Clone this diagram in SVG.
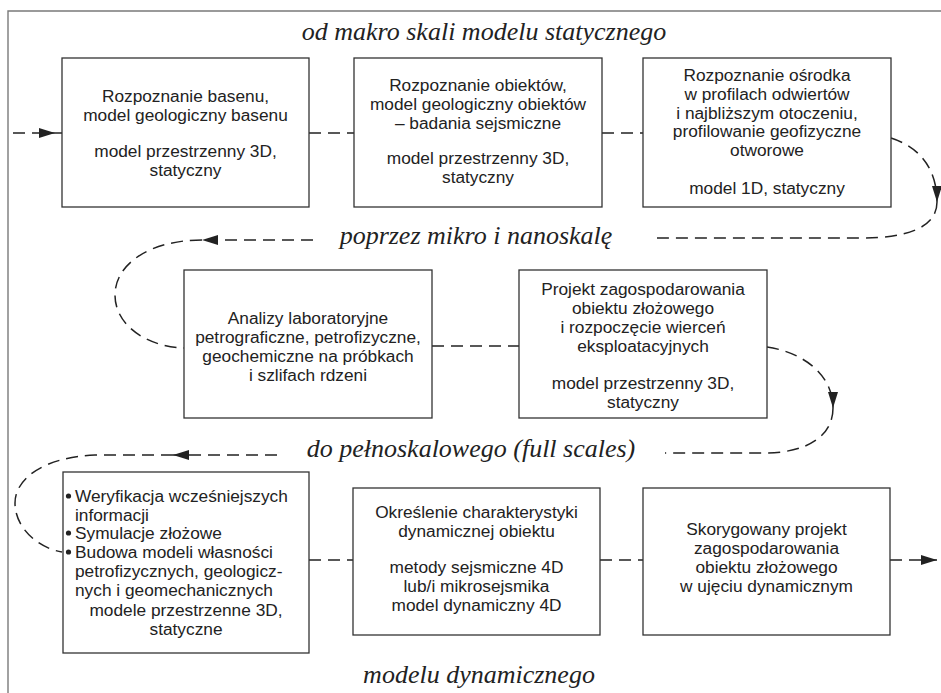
<svg xmlns="http://www.w3.org/2000/svg" width="941" height="693" viewBox="0 0 941 693">
<style>
.bg{fill:#ffffff}
.frame{fill:none;stroke:#7a7a7a;stroke-width:1.4}
.box{fill:#ffffff;stroke:#333333;stroke-width:1.3}
.t{font-family:"Liberation Sans",Arial,sans-serif;font-size:17.3px;fill:#222222;text-anchor:middle}
.tl{font-family:"Liberation Sans",Arial,sans-serif;font-size:17.3px;fill:#222222;text-anchor:start}
.lab{font-family:"Liberation Serif","Times New Roman",serif;font-style:italic;font-size:26px;fill:#222222;text-anchor:middle}
.dash{fill:none;stroke:#222222;stroke-width:1.5;stroke-dasharray:12 7}
.solid{fill:none;stroke:#222222;stroke-width:1.5}
</style>
<defs>
<marker id="arr" markerUnits="userSpaceOnUse" viewBox="0 0 16 10" refX="16" refY="5" markerWidth="16" markerHeight="10" orient="auto">
<path d="M0,0 L16,5 L0,10 z" fill="#222222"/>
</marker>
</defs>
<rect class="bg" x="0" y="0" width="941" height="693"/>
<path class="frame" d="M8,693 L8,11 L941,11"/>

<g id="labels">
<text class="lab" x="484" y="40">od makro skali modelu statycznego</text>
<text class="lab" x="476" y="244">poprzez mikro i nanoskalę</text>
<text class="lab" x="471" y="457">do pełnoskalowego (full scales)</text>
<text class="lab" x="479" y="683">modelu dynamicznego</text>
</g>

<g id="connectors">
<path class="dash" d="M13,133 L55,133" marker-end="url(#arr)"/>
<path class="solid" d="M55,133 L62,133"/>
<path class="dash" d="M309,133 L354,133"/>
<path class="dash" d="M602,133 L643,133"/>
<path class="dash" d="M891,138 C919,147 937,168 937,202" marker-end="url(#arr)"/>
<path class="dash" d="M937,202 C937,228 906,238 862,238 L657,238"/>
<path class="dash" d="M313,240 L202,240" marker-end="url(#arr)"/>
<path class="dash" d="M202,240 C150,240 115,264 115,295 C115,326 148,347 184,348"/>
<path class="dash" d="M432,346 L519,346"/>
<path class="dash" d="M767,347 C801,352 833,373 833,408" marker-end="url(#arr)"/>
<path class="dash" d="M833,408 C833,437 806,452 768,453 L665,453"/>
<path class="dash" d="M277,455 L173,455" marker-end="url(#arr)"/>
<path class="dash" d="M173,455 L95,455 C45,457 15,478 15,503 C15,528 38,548 62,552"/>
<path class="dash" d="M309,560 L353,560"/>
<path class="dash" d="M600,560 L643,560"/>
<path class="dash" d="M890,560 L937,560" marker-end="url(#arr)"/>
</g>

<g id="n1">
<rect class="box" x="62" y="58" width="247" height="149"/>
<text class="t" x="185.5" y="101.5">Rozpoznanie basenu,</text>
<text class="t" x="185.5" y="120.5">model geologiczny basenu</text>
<text class="t" x="185.5" y="156.5">model przestrzenny 3D,</text>
<text class="t" x="185.5" y="175.5">statyczny</text>
</g>

<g id="n2">
<rect class="box" x="354" y="58" width="248" height="149"/>
<text class="t" x="478" y="90.5">Rozpoznanie obiektów,</text>
<text class="t" x="478" y="109.5">model geologiczny obiektów</text>
<text class="t" x="478" y="128.5">– badania sejsmiczne</text>
<text class="t" x="478" y="163.5">model przestrzenny 3D,</text>
<text class="t" x="478" y="182.5">statyczny</text>
</g>

<g id="n3">
<rect class="box" x="643" y="58" width="248" height="149"/>
<text class="t" x="767" y="81">Rozpoznanie ośrodka</text>
<text class="t" x="767" y="99.5">w profilach odwiertów</text>
<text class="t" x="767" y="118.5">i najbliższym otoczeniu,</text>
<text class="t" x="767" y="137">profilowanie geofizyczne</text>
<text class="t" x="767" y="156">otworowe</text>
<text class="t" x="767" y="193.5">model 1D, statyczny</text>
</g>

<g id="n4">
<rect class="box" x="184" y="270" width="248" height="148"/>
<text class="t" x="308" y="324">Analizy laboratoryjne</text>
<text class="t" x="308" y="343">petrograficzne, petrofizyczne,</text>
<text class="t" x="308" y="362">geochemiczne na próbkach</text>
<text class="t" x="308" y="381">i szlifach rdzeni</text>
</g>

<g id="n5">
<rect class="box" x="519" y="270" width="248" height="148"/>
<text class="t" x="643" y="295">Projekt zagospodarowania</text>
<text class="t" x="643" y="314">obiektu złożowego</text>
<text class="t" x="643" y="333">i rozpoczęcie wierceń</text>
<text class="t" x="643" y="352">eksploatacyjnych</text>
<text class="t" x="643" y="388.5">model przestrzenny 3D,</text>
<text class="t" x="643" y="407.5">statyczny</text>
</g>

<g id="n6">
<rect class="box" x="63" y="472" width="246" height="181"/>
<circle cx="68.5" cy="496" r="2.6" fill="#222222"/>
<circle cx="68.5" cy="533" r="2.6" fill="#222222"/>
<circle cx="68.5" cy="552" r="2.6" fill="#222222"/>
<text class="tl" x="75" y="502">Weryfikacja wcześniejszych</text>
<text class="tl" x="75" y="520.5">informacji</text>
<text class="tl" x="75" y="539">Symulacje złożowe</text>
<text class="tl" x="75" y="557.5">Budowa modeli własności</text>
<text class="tl" x="75" y="576.5">petrofizycznych, geologicz-</text>
<text class="tl" x="75" y="595.5">nych i geomechanicznych</text>
<text class="t" x="186" y="616">modele przestrzenne 3D,</text>
<text class="t" x="186" y="635">statyczne</text>
</g>

<g id="n7">
<rect class="box" x="353" y="488" width="247" height="147"/>
<text class="t" x="476.5" y="517.5">Określenie charakterystyki</text>
<text class="t" x="476.5" y="536.5">dynamicznej obiektu</text>
<text class="t" x="476.5" y="573">metody sejsmiczne 4D</text>
<text class="t" x="476.5" y="592">lub/i mikrosejsmika</text>
<text class="t" x="476.5" y="611">model dynamiczny 4D</text>
</g>

<g id="n8">
<rect class="box" x="643" y="488" width="247" height="147"/>
<text class="t" x="766.5" y="534.5">Skorygowany projekt</text>
<text class="t" x="766.5" y="553.5">zagospodarowania</text>
<text class="t" x="766.5" y="572.5">obiektu złożowego</text>
<text class="t" x="766.5" y="591.5">w ujęciu dynamicznym</text>
</g>
</svg>
